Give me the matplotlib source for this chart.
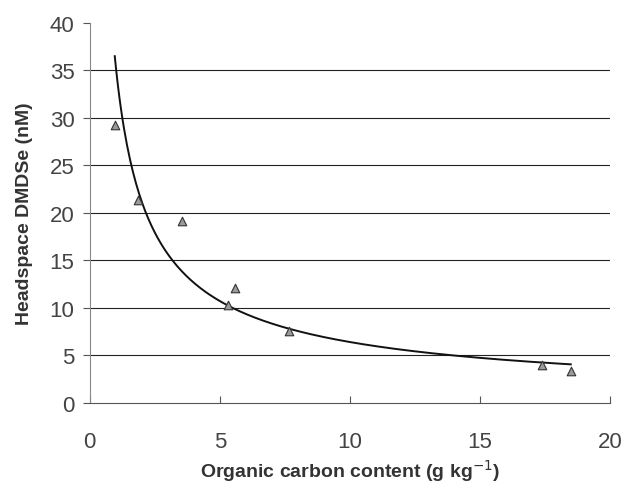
import numpy as np
import matplotlib
matplotlib.use("Agg")
import matplotlib.pyplot as plt

plt.rcParams['font.family'] = ['Liberation Sans', 'DejaVu Sans']

# organic carbon content (g/kg) vs headspace DMDSe (nM)
oc    = [0.96, 1.85, 3.54, 5.3, 5.6, 7.65, 17.4, 18.5]
dmdse = [29.3, 21.4, 19.2, 10.3, 12.1, 7.6, 4.0, 3.4]

# power-law trend line fitted to the points
b, loga = np.polyfit(np.log(oc), np.log(dmdse), 1)
xf = np.linspace(min(oc), max(oc), 300)
yf = np.exp(loga) * xf**b

fig = plt.figure(figsize=(6.28, 4.89), dpi=100)
ax = fig.add_axes([0.143, 0.174, 0.828, 0.777])

for yv in range(5, 40, 5):
    ax.axhline(yv, color='#222222', lw=0.8, zorder=1)

ax.plot(xf, yf, color='#111111', lw=1.4, zorder=2)
ax.scatter(oc, dmdse, marker='^', s=38, facecolor='#9a9a9a', edgecolor='#333333',
           linewidths=0.8, zorder=3)

ax.set_xlim(0, 20)
ax.set_ylim(0, 40)
ax.set_xticks([0, 5, 10, 15, 20])
ax.set_yticks(range(0, 45, 5))
ax.tick_params(labelsize=16, colors='#555555', labelcolor='#444444', length=5)
ax.tick_params(axis='y', pad=6)
ax.tick_params(axis='x', direction='in', pad=20)
ax.spines['top'].set_visible(False)
ax.spines['right'].set_visible(False)
ax.spines['left'].set_color('#888888')
ax.spines['bottom'].set_color('#555555')

ax.set_xlabel('Organic carbon content (g kg$^{-1}$)', fontsize=14, fontweight='bold',
              color='#333333', labelpad=4)
ax.set_ylabel('Headspace DMDSe (nM)', fontsize=14, fontweight='bold',
              color='#333333', labelpad=12)

fig.savefig('out.png', dpi=100)
